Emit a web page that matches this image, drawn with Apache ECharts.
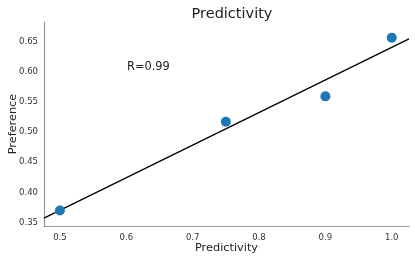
<!DOCTYPE html>
<html><head><meta charset="utf-8">
<script src="https://cdn.jsdelivr.net/npm/echarts@6/dist/echarts.min.js"></script>
<style>html,body{margin:0;padding:0;background:#fff}#c{width:415px;height:260px}</style>
</head><body><div id="c"></div>
<script>
var predictivity = [0.5, 0.75, 0.9, 1.0];
var preference = [0.370, 0.517, 0.559, 0.656];
var xTicks = [0.5, 0.6, 0.7, 0.8, 0.9, 1.0];
var yTicks = [0.35, 0.40, 0.45, 0.50, 0.55, 0.60, 0.65];
var annotation = 'R=0.99';

var xMin = 0.476, xMax = 1.026, yMin = 0.3445, yMax = 0.682;
// least squares fit
var n = predictivity.length, mx = 0, my = 0;
for (var i = 0; i < n; i++) { mx += predictivity[i]; my += preference[i]; }
mx /= n; my /= n;
var sxy = 0, sxx = 0;
for (var i = 0; i < n; i++) { sxy += (predictivity[i]-mx)*(preference[i]-my); sxx += (predictivity[i]-mx)*(predictivity[i]-mx); }
var slope = sxy/sxx, icpt = my - slope*mx;
var fitLine = [[xMin, icpt + slope*xMin], [xMax, icpt + slope*xMax]];

var font = 'DejaVu Sans';
var chart = echarts.init(document.getElementById('c'));
chart.setOption({
  animation: false,
  textStyle: {fontFamily: font},
  title: {text: 'Predictivity', left: 227, top: 2, textAlign: 'center',
    textStyle: {fontFamily: font, fontSize: 14.5, fontWeight: 'normal', color: '#222'}},
  grid: {left: 44, right: 6, top: 22, bottom: 34, containLabel: false, outerBoundsMode: 'none'},
  xAxis: {type: 'value', min: xMin, max: xMax,
    name: 'Predictivity', nameLocation: 'middle', nameGap: 16.5, nameMoveOverlap: false,
    nameTextStyle: {fontFamily: font, fontSize: 11.3, color: '#222'},
    axisLine: {lineStyle: {color: '#999', width: 1.2}},
    axisTick: {show: false, customValues: xTicks},
    splitLine: {show: false},
    axisLabel: {customValues: xTicks, fontSize: 8.5, color: '#333', margin: 7,
      formatter: function (v) { return v.toFixed(1); }}},
  yAxis: {type: 'value', min: yMin, max: yMax,
    name: 'Preference', nameLocation: 'middle', nameGap: 25.5, nameMoveOverlap: false,
    nameTextStyle: {fontFamily: font, fontSize: 11.3, color: '#222'},
    axisLine: {show: true, lineStyle: {color: '#999', width: 1.2}},
    axisTick: {show: false, customValues: yTicks},
    splitLine: {show: false},
    axisLabel: {customValues: yTicks, fontSize: 8.5, color: '#333', margin: 6,
      formatter: function (v) { return v.toFixed(2); }}},
  graphic: [{type: 'text', left: 127, top: 62,
    style: {text: annotation, font: '11.4px "DejaVu Sans"', fill: '#222'}}],
  series: [
    {type: 'line', data: fitLine, showSymbol: false, symbol: 'none',
      lineStyle: {color: '#000', width: 1.3}, z: 2},
    {type: 'scatter', data: predictivity.map(function (x, i) { return [x, preference[i]]; }),
      symbolSize: 10, itemStyle: {color: '#1f77b4', opacity: 1}, z: 3}
  ]
});
</script></body></html>
